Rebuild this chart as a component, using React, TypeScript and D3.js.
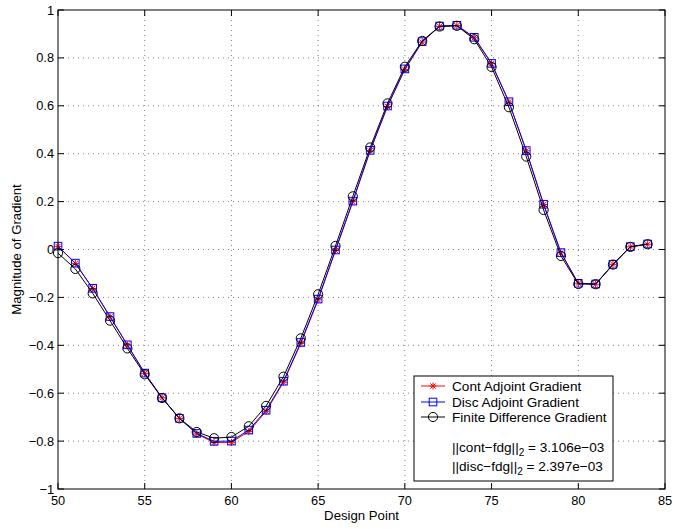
import React from "react";
import * as d3 from "d3";

const designPoints = [50,51,52,53,54,55,56,57,58,59,60,61,62,63,64,65,66,67,68,69,70,71,72,73,74,75,76,77,78,79,80,81,82,83,84];
const contGrad = [0.013,-0.058,-0.163,-0.281,-0.399,-0.517,-0.619,-0.705,-0.770,-0.806,-0.805,-0.760,-0.676,-0.554,-0.392,-0.210,-0.004,0.200,0.412,0.597,0.752,0.866,0.932,0.935,0.884,0.776,0.616,0.412,0.188,-0.014,-0.141,-0.145,-0.062,0.011,0.022];
const discGrad = [0.014,-0.057,-0.162,-0.280,-0.398,-0.516,-0.619,-0.705,-0.768,-0.801,-0.800,-0.754,-0.671,-0.550,-0.388,-0.207,-0.002,0.202,0.414,0.599,0.754,0.868,0.933,0.936,0.886,0.777,0.617,0.413,0.189,-0.013,-0.141,-0.144,-0.062,0.012,0.023];
const fdGrad = [-0.015,-0.081,-0.183,-0.297,-0.413,-0.521,-0.620,-0.705,-0.762,-0.788,-0.783,-0.738,-0.653,-0.531,-0.371,-0.187,0.015,0.222,0.426,0.610,0.763,0.871,0.931,0.934,0.878,0.762,0.594,0.388,0.165,-0.027,-0.144,-0.145,-0.063,0.011,0.022];
const xTicks = [50,55,60,65,70,75,80,85];
const yTicks = [-1,-0.8,-0.6,-0.4,-0.2,0,0.2,0.4,0.6,0.8,1];
const legendLabels = ["Cont Adjoint Gradient","Disc Adjoint Gradient","Finite Difference Gradient"];

const W = 673, H = 529;
const L = 58, R = 665, T = 10, B = 489;
const FONT = "'Liberation Sans', Arial, Helvetica, sans-serif";

function Star({ x, y, color }: { x: number; y: number; color: string }) {
  const s = 3.5, d = 2.6;
  return (
    <g stroke={color} strokeWidth={1}>
      <line x1={x - s} y1={y} x2={x + s} y2={y} />
      <line x1={x} y1={y - s} x2={x} y2={y + s} />
      <line x1={x - d} y1={y - d} x2={x + d} y2={y + d} />
      <line x1={x - d} y1={y + d} x2={x + d} y2={y - d} />
    </g>
  );
}
function Square({ x, y, color }: { x: number; y: number; color: string }) {
  const s = 3.8;
  return <rect x={x - s} y={y - s} width={2 * s} height={2 * s} fill="none" stroke={color} strokeWidth={1} />;
}
function Circle({ x, y, color }: { x: number; y: number; color: string }) {
  return <circle cx={x} cy={y} r={4.6} fill="none" stroke={color} strokeWidth={1} />;
}

export default function App() {
  const xs = d3.scaleLinear().domain([50, 85]).range([L, R]);
  const ys = d3.scaleLinear().domain([-1, 1]).range([B, T]);
  const line = (vals: number[]) =>
    d3.line<number>().x((_, i) => xs(designPoints[i])).y((v) => ys(v))(vals) || "";

  const series = [
    { vals: contGrad, color: "#ff0000", M: Star },
    { vals: discGrad, color: "#0000ff", M: Square },
    { vals: fdGrad, color: "#000000", M: Circle },
  ];

  const lgX = 414, lgY = 376, lgW = 199, lgH = 105;
  const rowY = [386, 402, 417];

  return (
    <svg width={W} height={H} style={{ position: "absolute", left: 0, top: 0, background: "#fff" }} fontFamily={FONT}>
      <rect x={0} y={0} width={W} height={H} fill="#fff" />
      {/* grid */}
      <g stroke="#000" strokeWidth={0.6} strokeDasharray="1,4" opacity={0.8}>
        {xTicks.slice(1, -1).map((t) => (
          <line key={"gx" + t} x1={xs(t)} x2={xs(t)} y1={T} y2={B} />
        ))}
        {yTicks.slice(1, -1).map((t) => (
          <line key={"gy" + t} x1={L} x2={R} y1={ys(t)} y2={ys(t)} />
        ))}
      </g>
      {/* data */}
      {series.map((s, si) => (
        <g key={si}>
          <path d={line(s.vals)} fill="none" stroke={s.color} strokeWidth={1} />
          {s.vals.map((v, i) => (
            <s.M key={i} x={xs(designPoints[i])} y={ys(v)} color={s.color} />
          ))}
        </g>
      ))}
      {/* axes box */}
      <rect x={L} y={T} width={R - L} height={B - T} fill="none" stroke="#000" strokeWidth={1} />
      <g stroke="#000" strokeWidth={1}>
        {xTicks.map((t) => (
          <g key={"tx" + t}>
            <line x1={xs(t)} x2={xs(t)} y1={B} y2={B - 6} />
            <line x1={xs(t)} x2={xs(t)} y1={T} y2={T + 6} />
          </g>
        ))}
        {yTicks.map((t) => (
          <g key={"ty" + t}>
            <line x1={L} x2={L + 6} y1={ys(t)} y2={ys(t)} />
            <line x1={R} x2={R - 6} y1={ys(t)} y2={ys(t)} />
          </g>
        ))}
      </g>
      <g fontSize={12.8} fill="#000">
        {xTicks.map((t) => (
          <text key={"lx" + t} x={xs(t)} y={505} textAnchor="middle">{t}</text>
        ))}
        {yTicks.map((t) => (
          <text key={"ly" + t} x={L - 4} y={ys(t) + 4.5} textAnchor="end">
            {t === 0 ? "0" : d3.format("")(t).replace("-", "\u2212")}
          </text>
        ))}
      </g>
      <g fontSize={13.2} fill="#000">
        <text x={(L + R) / 2} y={519.5} textAnchor="middle">Design Point</text>
        <text transform={`translate(21,${(T + B) / 2}) rotate(-90)`} textAnchor="middle">Magnitude of Gradient</text>
      </g>
      {/* legend */}
      <rect x={lgX} y={lgY} width={lgW} height={lgH} fill="#fff" stroke="#000" strokeWidth={1} />
      {series.map((s, i) => (
        <g key={"lg" + i}>
          <line x1={421} x2={445} y1={rowY[i]} y2={rowY[i]} stroke={s.color} strokeWidth={1} />
          <s.M x={433} y={rowY[i]} color={s.color} />
          <text x={452} y={rowY[i] + 5} fontSize={13.6}>{legendLabels[i]}</text>
        </g>
      ))}
      <text x={452} y={452} fontSize={13.6}>
        ||cont{"\u2212"}fdg||<tspan fontSize={10} dy={4}>2</tspan><tspan dy={-4}> = 3.106e{"\u2212"}03</tspan>
      </text>
      <text x={452} y={471} fontSize={13.6}>
        ||disc{"\u2212"}fdg||<tspan fontSize={10} dy={4}>2</tspan><tspan dy={-4}>  = 2.397e{"\u2212"}03</tspan>
      </text>
    </svg>
  );
}
